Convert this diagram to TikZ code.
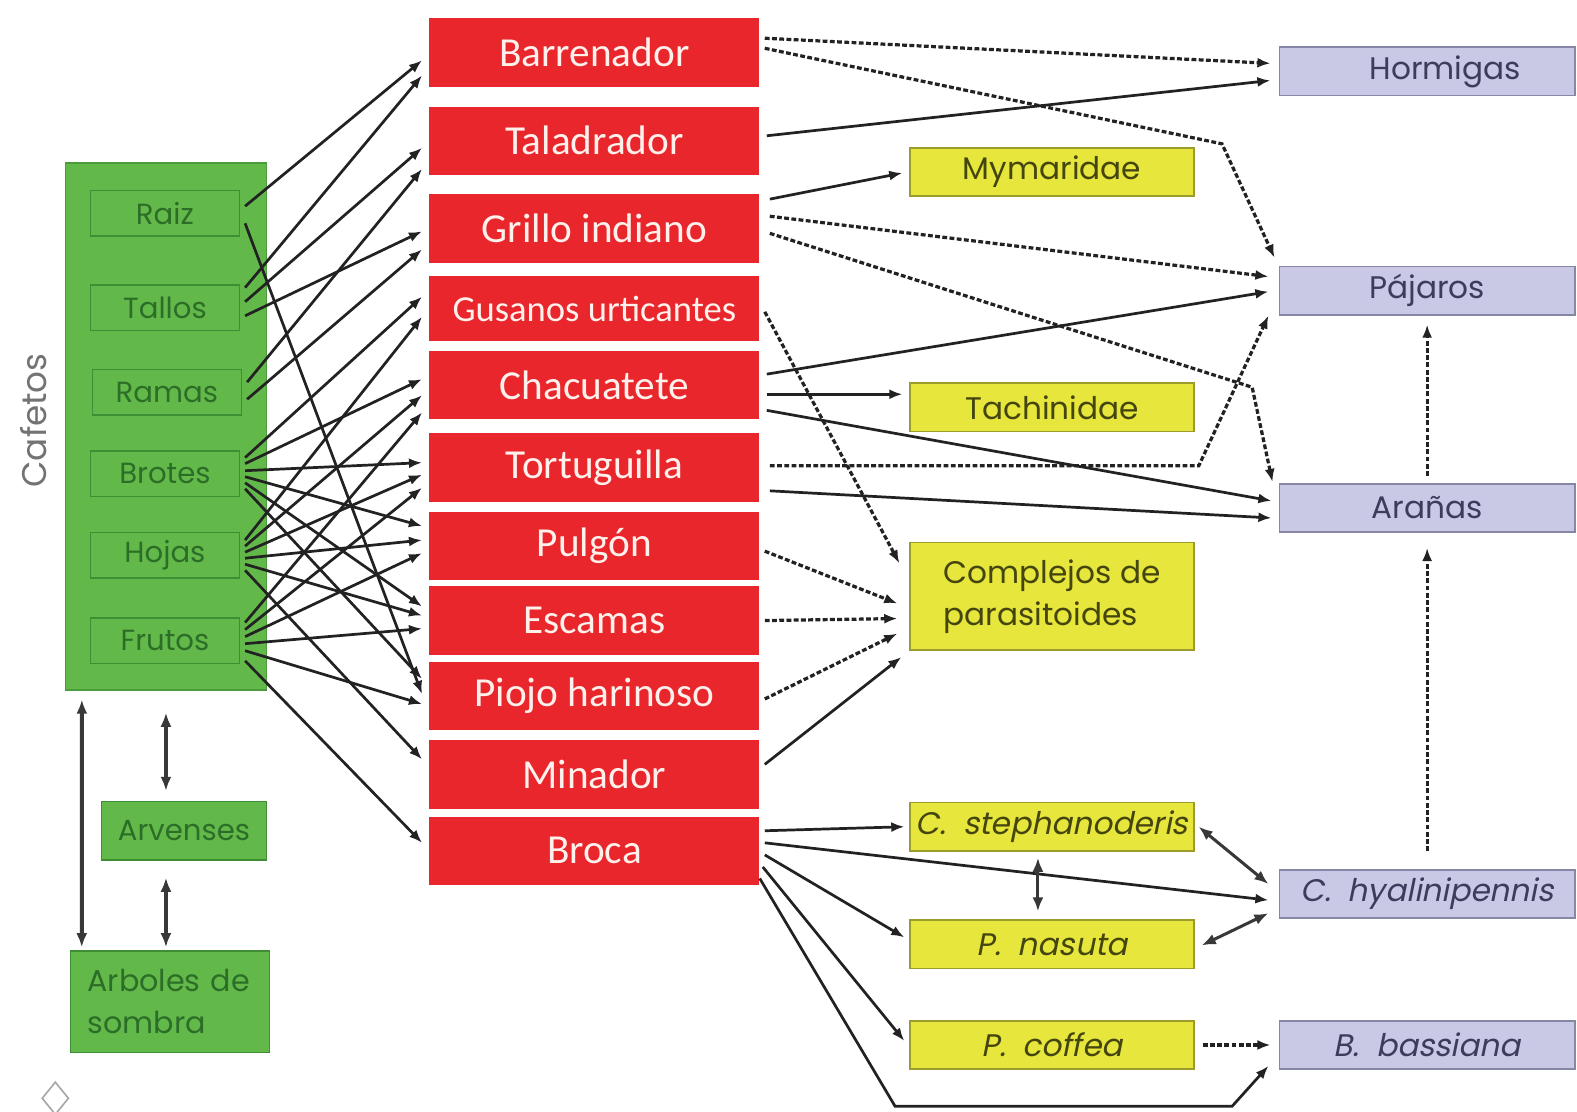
\documentclass[tikz,border=0pt]{standalone}
\usepackage{fontspec}
\usetikzlibrary{arrows.meta,calc,positioning}
\newfontfamily\pestfont{Carlito}
\newfontfamily\gothic{Poppins}
\newfontfamily\gothicit[FakeSlant=0.2]{Poppins}
\definecolor{pestRed}{HTML}{E8262B}
\definecolor{pestText}{HTML}{FFF0EC}
\definecolor{leafGreen}{HTML}{62B94A}
\definecolor{leafLine}{HTML}{3E8E34}
\definecolor{leafText}{HTML}{2C6E28}
\definecolor{waspYellow}{HTML}{E6E63C}
\definecolor{waspLine}{HTML}{9C9C2C}
\definecolor{waspText}{HTML}{45450F}
\definecolor{enemyLav}{HTML}{C9C9E6}
\definecolor{enemyLine}{HTML}{8686A6}
\definecolor{enemyText}{HTML}{3C3C5C}
\definecolor{ink}{HTML}{222222}
\tikzset{
  plantpanel/.style={fill=leafGreen, draw=leafLine!70!leafGreen, line width=.6pt},
  plantpart/.style={draw=leafLine, line width=.7pt, minimum width=74pt,
    minimum height=22.5pt, inner sep=1pt, text=leafText,
    font=\gothic\fontsize{14.5}{17}\selectfont},
  plantbox/.style={plantpart, fill=leafGreen},
  sidelabel/.style={text=black!55, font=\gothic\fontsize{17}{20}\selectfont},
  pest/.style={fill=pestRed, text=pestText, minimum width=164pt,
    minimum height=34pt, inner sep=0pt,
    font=\pestfont\fontsize{20.5}{24}\selectfont},
  parasitoid/.style={fill=waspYellow, draw=waspLine, line width=.8pt,
    minimum width=141pt, minimum height=24pt, inner sep=1pt, text=waspText,
    font=\gothic\fontsize{15.5}{20}\selectfont},
  enemy/.style={fill=enemyLav, draw=enemyLine, line width=.8pt,
    minimum width=147pt, minimum height=24pt, inner sep=1pt, text=enemyText,
    font=\gothic\fontsize{15.5}{20}\selectfont},
  feed/.style={-{Latex[length=6.5pt,width=5pt]}, draw=ink, line width=1.35pt},
  weak/.style={feed, line width=1.6pt, dash pattern=on 2.4pt off 1.2pt},
  mutual/.style={{Latex[length=7pt,width=5.5pt]}-{Latex[length=7pt,width=5.5pt]},
    draw=ink!90, line width=2pt}
}

\begin{document}
\begin{tikzpicture}[x=0.5pt,y=-0.5pt]
\path[use as bounding box, fill=white] (0,0) rectangle (1568,1105);

% ---------------------------------------------------------------------------
% Plants: coffee organs, weeds and shade trees.
% ---------------------------------------------------------------------------
\node[plantpanel, minimum width=100pt, minimum height=262pt] (cafetos) at (165,424) {};
\node[sidelabel, rotate=90] (cafetoslabel) at (33,418) {Cafetos};

\node[plantpart] (raiz) at (164,212) {Raiz};
\node[plantpart] (tallos) at (164,306) {Tallos};
\node[plantpart] (ramas) at (166,390) {Ramas};
\node[plantpart] (brotes) at (164,471) {Brotes};
\node[plantpart] (hojas) at (164,552) {Hojas};
\node[plantpart] (frutos) at (164,637) {Frutos};

\node[plantbox, minimum width=82pt, minimum height=29pt] (arvenses) at (183,826) {Arvenses};
\node[plantbox, minimum width=99pt, minimum height=50.5pt, align=left,
  text width=82pt, inner xsep=8.5pt, font=\gothic\fontsize{15}{21}\selectfont]
  (arboles) at (169,996) {Arboles de\\sombra};

\draw[mutual] ($(cafetos.south west)+(17,9)$) -- ($(arboles.north west)+(12,-3)$);
\draw[mutual] ($(cafetos.south)+(0,22)$) -- ($(arvenses.north -| cafetos.south)+(0,-10)$);
\draw[mutual] ($(arvenses.south -| cafetos.south)+(0,17)$) -- ($(arboles.north -| cafetos.south)+(0,-3)$);

% ---------------------------------------------------------------------------
% Pests of the crop.
% ---------------------------------------------------------------------------
\node[pest] (barr) at (591,52) {Barrenador};
\node[pest] (tala) at (591,140) {Taladrador};
\node[pest] (grillo) at (591,227) {Grillo indiano};
\node[pest, minimum height=32.5pt, font=\pestfont\fontsize{18.2}{22}\selectfont] (gusanos) at (591,307) {Gusanos urticantes};
\node[pest] (chac) at (591,383) {Chacuatete};
\node[pest] (tort) at (591,465) {Tortuguilla};
\node[pest] (pulgon) at (591,543) {Pulgón};
\node[pest] (escamas) at (591,617) {Escamas};
\node[pest] (piojo) at (591,692) {Piojo harinoso};
\node[pest] (minador) at (591,770) {Minador};
\node[pest] (broca) at (591,846) {Broca};

% plant organ -> pest
\foreach \src/\sy/\dst/\dy in {raiz/-7/barr/8, raiz/10/piojo/-2,
    tallos/-20/barr/23, tallos/-6/tala/7, tallos/8/grillo/3,
    ramas/-10/tala/28, ramas/7/grillo/21,
    brotes/-16/gusanos/-12, brotes/-10/chac/-6, brotes/-3/tort/-5,
    brotes/3/pulgon/-20, brotes/9/escamas/-14, brotes/15/piojo/-17,
    hojas/-15/gusanos/8, hojas/-9/chac/10, hojas/-3/tort/7,
    hojas/3/pulgon/-6, hojas/9/escamas/-5, hojas/15/minador/-15,
    frutos/-18/chac/27, frutos/-11/tort/20, frutos/-4/pulgon/7,
    frutos/3/escamas/8, frutos/10/piojo/8, frutos/20/broca/-8}
  \draw[feed] ($(\src.east)+(5,\sy)$) -- ($(\dst.west)+(-7,\dy)$);

% ---------------------------------------------------------------------------
% Natural enemies: parasitoids (yellow) and predators / pathogens (lilac).
% ---------------------------------------------------------------------------
\node[parasitoid] (mymar) at (1046,171) {Mymaridae};
\node[parasitoid] (tachin) at (1046,405) {Tachinidae};
\node[parasitoid, minimum height=53.5pt, align=left,
  font=\gothic\fontsize{15.5}{21}\selectfont] (complejos) at (1046,593)
  {Complejos de\\parasitoides};
\node[parasitoid, font=\gothicit\fontsize{15.5}{20}\selectfont] (cstep) at (1046,822) {C.\ \ stephanoderis};
\node[parasitoid, font=\gothicit\fontsize{15.5}{20}\selectfont] (pnasuta) at (1046,939) {P.\ \ nasuta};
\node[parasitoid, font=\gothicit\fontsize{15.5}{20}\selectfont] (pcoffea) at (1046,1039) {P.\ \ coffea};

\node[enemy] (hormigas) at (1419,71) {\hspace*{18pt}Hormigas};
\node[enemy] (pajaros) at (1419,289) {Pájaros};
\node[enemy] (aranas) at (1419,505) {Arañas};
\node[enemy, font=\gothicit\fontsize{15.5}{20}\selectfont] (chyal) at (1419,889) {C.\ \ hyalinipennis};
\node[enemy, font=\gothicit\fontsize{15.5}{20}\selectfont] (bbass) at (1419,1039) {B.\ \ bassiana};

\coordinate (bendA) at (1215,143);
\coordinate (bendB) at (1245,385);
\coordinate (bendC) at (1192,463);
\coordinate (bendD) at (890,1100);
\coordinate (bendE) at (1225,1100);

\draw[weak] ($(barr.east)+(5,-14)$) -- ($(hormigas.west)+(-8,-8)$);
\draw[weak] ($(barr.east)+(5,-4)$) -- (bendA) -- ($(pajaros.north west)+(-4,-8)$);
\draw[feed] ($(tala.east)+(7,-5)$) -- ($(hormigas.west)+(-8,9)$);
\draw[feed] ($(grillo.east)+(10,-29)$) -- ($(mymar.west)+(-7,1)$);
\draw[weak] ($(grillo.east)+(10,-12)$) -- ($(pajaros.west)+(-10,-14)$);
\draw[weak] ($(grillo.east)+(10,5)$) -- (bendB) -- ($(aranas.north west)+(-6,-1)$);
\draw[weak] ($(gusanos.east)+(5,3)$) -- ($(complejos.west)+(-10,-33)$);
\draw[feed] ($(chac.east)+(7,-11)$) -- ($(pajaros.west)+(-10,1)$);
\draw[feed] ($(chac.east)+(7,9)$) -- ($(tachin.west)+(-7,-13)$);
\draw[feed] ($(chac.east)+(7,25)$) -- ($(aranas.west)+(-7,-7)$);
\draw[weak] ($(tort.east)+(10,-2)$) -- (bendC) -- ($(pajaros.south west)+(-10,0)$);
\draw[feed] ($(tort.east)+(10,23)$) -- ($(aranas.west)+(-7,10)$);
\draw[weak] ($(pulgon.east)+(5,5)$) -- ($(complejos.west)+(-12,7)$);
\draw[weak] ($(escamas.east)+(5,0)$) -- ($(complejos.west)+(-12,22)$);
\draw[weak] ($(piojo.east)+(5,3)$) -- ($(complejos.west)+(-12,37)$);
\draw[feed] ($(minador.east)+(5,-10)$) -- ($(complejos.south west)+(-8,6)$);

% the berry borer and its enemies
\draw[feed] ($(broca.east)+(5,-20)$) -- ($(cstep.west)+(-5,0)$);
\draw[feed] ($(broca.east)+(5,-8)$) -- ($(chyal.west)+(-10,6)$);
\draw[feed] ($(broca.east)+(5,4)$) -- ($(pnasuta.west)+(-5,-7)$);
\draw[feed] ($(broca.east)+(3,16)$) -- ($(pcoffea.west)+(-5,-4)$);
\draw[feed] ($(broca.south east)+(0,-7)$) -- (bendD) -- (bendE) -- ($(bbass.south west)+(-10,-4)$);
\draw[mutual, line width=1.5pt] ($(cstep.east)+(4,0)$) -- ($(chyal.west)+(-10,-10)$);
\draw[mutual, line width=1.5pt] ($(pnasuta.east)+(7,1)$) -- ($(chyal.west)+(-10,19)$);
\draw[mutual, line width=1.5pt] ($(cstep.south)+(-14,6)$) -- ($(pnasuta.north)+(-14,-8)$);
\draw[weak] ($(pcoffea.east)+(8,0)$) -- ($(bbass.west)+(-8,0)$);
\draw[weak] ($(chyal.north)+(0,-18)$) -- ($(aranas.south)+(0,15)$);
\draw[weak] ($(aranas.north)+(0,-7)$) -- ($(pajaros.south)+(0,9)$);

% corner mark
\draw[black!35, line width=.8pt] (55,1076) -- (68,1092) -- (55,1108) -- (42,1092) -- cycle;

\end{tikzpicture}
\end{document}
